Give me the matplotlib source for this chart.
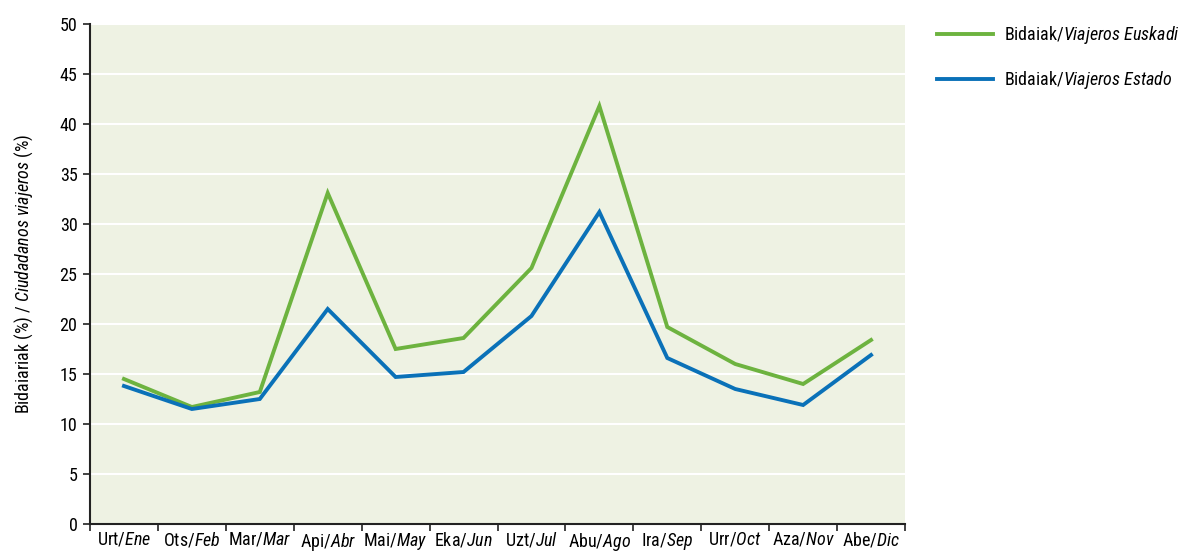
import numpy as np
import matplotlib
matplotlib.use("Agg")
from matplotlib import pyplot as plt

plt.rcParams['font.family'] = ['Roboto Condensed', 'DejaVu Sans']
plt.rcParams['mathtext.fontset'] = 'custom'
plt.rcParams['mathtext.rm'] = 'Roboto Condensed'
plt.rcParams['mathtext.it'] = 'Roboto Condensed:italic'

months_eu = ["Urt", "Ots", "Mar", "Api", "Mai", "Eka", "Uzt", "Abu", "Ira", "Urr", "Aza", "Abe"]
months_es = ["Ene", "Feb", "Mar", "Abr", "May", "Jun", "Jul", "Ago", "Sep", "Oct", "Nov", "Dic"]
euskadi = [14.5, 11.7, 13.2, 33.1, 17.5, 18.6, 25.6, 41.8, 19.7, 16.0, 14.0, 18.4]
estado = [13.8, 11.5, 12.5, 21.5, 14.7, 15.2, 20.8, 31.2, 16.6, 13.5, 11.9, 16.9]

green = "#6db33f"
blue = "#0a71b8"

fig = plt.figure(figsize=(11.78, 5.52), dpi=100)
ax = fig.add_axes([90 / 1178, 28 / 552, 815 / 1178, 500 / 552])
ax.set_facecolor("#eef2e3")

x = np.arange(len(euskadi))
l1, = ax.plot(x, euskadi, color=green, lw=2.8, solid_joinstyle="miter",
              label=r"Bidaiak/$\mathit{Viajeros\ Euskadi}$")
l2, = ax.plot(x, estado, color=blue, lw=2.8, solid_joinstyle="miter",
              label=r"Bidaiak/$\mathit{Viajeros\ Estado}$")

ax.set_xlim(-0.5, 11.5)
ax.set_ylim(0, 50)
ax.set_yticks(np.arange(0, 51, 5))
ax.yaxis.grid(True, color="white", lw=1.5)
ax.set_axisbelow(True)

ax.set_xticks(x)
ax.set_xticklabels([f"{a}/$\\mathit{{{b}}}$" for a, b in zip(months_eu, months_es)])
ax.set_xticks(np.arange(-0.5, 12, 1), minor=True)
ax.tick_params(axis="x", which="major", length=0, pad=5, labelsize=13)
ax.tick_params(axis="x", which="minor", length=5, width=1.2, color="#222222")
ax.tick_params(axis="y", length=5, width=1.2, color="#222222", labelsize=13, pad=4)

for s in ["top", "right"]:
    ax.spines[s].set_visible(False)
for s in ["left", "bottom"]:
    ax.spines[s].set_color("#222222")
    ax.spines[s].set_linewidth(1.5)

ax.set_ylabel(r"Bidaiariak (%) / $\mathit{Ciudadanos\ viajeros\ (\%)}$", fontsize=13, labelpad=18)

fig.legend(handles=[l1, l2], loc="upper left", bbox_to_anchor=(937 / 1178, 1 - 24 / 552),
           frameon=False, fontsize=13, handlelength=3.1, handletextpad=0.6, labelspacing=1.3,
           borderpad=0, borderaxespad=0)

fig.savefig("out.png", dpi=100)
